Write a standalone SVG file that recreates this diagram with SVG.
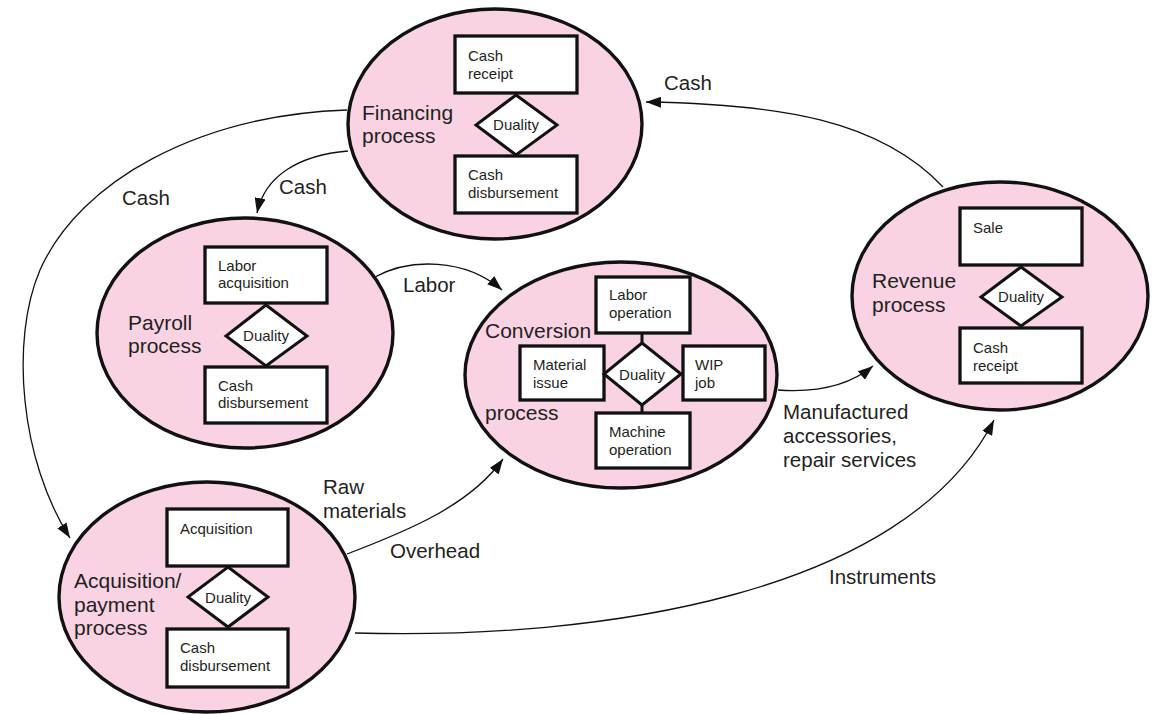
<svg xmlns="http://www.w3.org/2000/svg" width="1155" height="714" viewBox="0 0 1155 714">
<style>
.proc{fill:#F9D3E3;stroke:#111;stroke-width:3.4}
.box{fill:#fff;stroke:#111;stroke-width:3.3}
.dia{fill:#fff;stroke:#111;stroke-width:3}
.tick{stroke:#111;stroke-width:3}
.conn{fill:none;stroke:#111;stroke-width:1.3}
text{font-family:"Liberation Sans",Arial,sans-serif;fill:#231F20}
.pl{font-size:21px}
.bt{font-size:15px}
.dt{font-size:15px;text-anchor:middle}
.cl{font-size:20.5px}
</style>
<defs>
<marker id="ah" markerUnits="userSpaceOnUse" markerWidth="15" markerHeight="11" refX="15" refY="5.5" orient="auto">
<path d="M0,0 L15,5.5 L0,11 z" fill="#111"/>
</marker>
</defs>
<rect width="1155" height="714" fill="#fff"/>

<g id="connectors">
<path class="conn" d="M943 187 C880 120 780 104 646 102" marker-end="url(#ah)"/>
<path class="conn" d="M347 110 C200 115 80 180 40 270 C10 340 20 460 70 538" marker-end="url(#ah)"/>
<path class="conn" d="M348 151 C300 155 265 175 257 213" marker-end="url(#ah)"/>
<path class="conn" d="M375 277 C410 258 465 258 502 290" marker-end="url(#ah)"/>
<path class="conn" d="M347 554 C410 530 470 505 503 459" marker-end="url(#ah)"/>
<path class="conn" d="M778 390 C820 393 850 385 873 366" marker-end="url(#ah)"/>
<path class="conn" d="M355 633 C600 640 905 595 994 420" marker-end="url(#ah)"/>
<text class="cl" x="664" y="90">Cash</text>
<text class="cl" x="122" y="205">Cash</text>
<text class="cl" x="279" y="194">Cash</text>
<text class="cl" x="403" y="292">Labor</text>
<text class="cl" x="323" y="494">Raw</text>
<text class="cl" x="323" y="518">materials</text>
<text class="cl" x="390" y="558">Overhead</text>
<text class="cl" x="783" y="419">Manufactured</text>
<text class="cl" x="783" y="443">accessories,</text>
<text class="cl" x="783" y="467">repair services</text>
<text class="cl" x="829" y="584">Instruments</text>
</g>

<g id="financing">
<ellipse class="proc" cx="495" cy="124" rx="147" ry="115"/>
<text class="pl" x="362" y="120">Financing</text>
<text class="pl" x="362" y="143">process</text>
<rect class="box" x="455" y="36" width="122" height="57"/>
<text class="bt" x="468" y="61">Cash</text>
<text class="bt" x="468" y="79">receipt</text>
<polygon class="dia" points="516,95 557,125 516,155 476,125"/>
<text class="dt" x="516" y="130">Duality</text>
<rect class="box" x="455" y="156" width="122" height="57"/>
<text class="bt" x="468" y="180">Cash</text>
<text class="bt" x="468" y="198">disbursement</text>
</g>

<g id="payroll">
<ellipse class="proc" cx="245" cy="333" rx="148" ry="115"/>
<text class="pl" x="128" y="330">Payroll</text>
<text class="pl" x="128" y="353">process</text>
<rect class="box" x="205" y="247" width="122" height="56"/>
<text class="bt" x="218" y="271">Labor</text>
<text class="bt" x="218" y="288">acquisition</text>
<polygon class="dia" points="266,305 307,336 266,366 226,336"/>
<text class="dt" x="266" y="341">Duality</text>
<rect class="box" x="205" y="367" width="122" height="56"/>
<text class="bt" x="218" y="391">Cash</text>
<text class="bt" x="218" y="408">disbursement</text>
</g>

<g id="conversion">
<ellipse class="proc" cx="621" cy="375" rx="156" ry="113"/>
<text class="pl" x="485" y="338">Conversion</text>
<text class="pl" x="485" y="420">process</text>
<line class="tick" x1="642" y1="333" x2="642" y2="343"/>
<line class="tick" x1="642" y1="405" x2="642" y2="413"/>
<rect class="box" x="596" y="277" width="94" height="56"/>
<text class="bt" x="609" y="300">Labor</text>
<text class="bt" x="609" y="318">operation</text>
<rect class="box" x="520" y="346" width="84" height="54"/>
<text class="bt" x="533" y="370">Material</text>
<text class="bt" x="533" y="388">issue</text>
<polygon class="dia" points="642,343 681,374 642,405 604,374"/>
<text class="dt" x="642" y="380">Duality</text>
<rect class="box" x="683" y="346" width="82" height="54"/>
<text class="bt" x="695" y="370">WIP</text>
<text class="bt" x="695" y="388">job</text>
<rect class="box" x="596" y="413" width="94" height="55"/>
<text class="bt" x="609" y="437">Machine</text>
<text class="bt" x="609" y="455">operation</text>
</g>

<g id="revenue">
<ellipse class="proc" cx="1000" cy="296" rx="148" ry="114"/>
<text class="pl" x="872" y="288">Revenue</text>
<text class="pl" x="872" y="312">process</text>
<rect class="box" x="960" y="208" width="122" height="57"/>
<text class="bt" x="973" y="233">Sale</text>
<polygon class="dia" points="1021,267 1062,297 1021,326 981,297"/>
<text class="dt" x="1021" y="302">Duality</text>
<rect class="box" x="960" y="328" width="122" height="55"/>
<text class="bt" x="973" y="353">Cash</text>
<text class="bt" x="973" y="371">receipt</text>
</g>

<g id="acquisition">
<ellipse class="proc" cx="207" cy="597" rx="148" ry="115"/>
<text class="pl" x="74" y="588">Acquisition/</text>
<text class="pl" x="74" y="612">payment</text>
<text class="pl" x="74" y="635">process</text>
<rect class="box" x="167" y="509" width="121" height="57"/>
<text class="bt" x="180" y="534">Acquisition</text>
<polygon class="dia" points="228,567 268,597 228,627 188,597"/>
<text class="dt" x="228" y="603">Duality</text>
<rect class="box" x="167" y="629" width="121" height="58"/>
<text class="bt" x="180" y="653">Cash</text>
<text class="bt" x="180" y="671">disbursement</text>
</g>
</svg>
